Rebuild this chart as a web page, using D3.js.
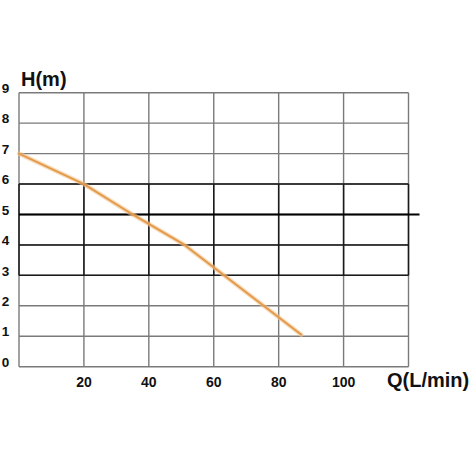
<!DOCTYPE html>
<html>
<head>
<meta charset="utf-8">
<script src="https://cdn.jsdelivr.net/npm/d3@7"></script>
<style>
  body { margin: 0; background: #fff; }
  text { font-family: "Liberation Sans", Arial, sans-serif; font-weight: bold; fill: #111; }
</style>
</head>
<body>
<svg id="chart" width="470" height="470"></svg>
<script>
// pump curve
var flow = [0, 20, 35, 51, 87];
var head = [7, 6, 5.0, 4.0, 1.05];
var xTicks = [20, 40, 60, 80, 100];
var yTicks = [0, 1, 2, 3, 4, 5, 6, 7, 8, 9];

var svg = d3.select("#chart"),
  margin = { top: 92.7, right: 61.5, bottom: 103.3, left: 19 },
  width = +svg.attr("width") - margin.left - margin.right,
  height = +svg.attr("height") - margin.top - margin.bottom,
  g = svg.append("g")
    .attr("transform", "translate(" + margin.left + "," + margin.top + ")");

var x = d3.scaleLinear().domain([0, 120]).range([0, width]);
var y = d3.scaleLinear().domain([0, 9]).range([height, 0]);

var cols = d3.range(0, 121, 20);

// light grid
g.selectAll(".hl")
  .data(yTicks)
  .enter()
  .append("line")
  .attr("x1", 0).attr("x2", width)
  .attr("y1", function(d) { return y(d); })
  .attr("y2", function(d) { return y(d); })
  .attr("stroke", "#7a7a7a")
  .attr("stroke-width", 1.4);

g.selectAll(".vl")
  .data(cols)
  .enter()
  .append("line")
  .attr("y1", 0).attr("y2", height)
  .attr("x1", function(d) { return x(d); })
  .attr("x2", function(d) { return x(d); })
  .attr("stroke", "#7a7a7a")
  .attr("stroke-width", 1.4);

// darker band between 3 and 6
g.selectAll(".hd")
  .data([3, 4, 6])
  .enter()
  .append("line")
  .attr("x1", 0).attr("x2", width)
  .attr("y1", function(d) { return y(d); })
  .attr("y2", function(d) { return y(d); })
  .attr("stroke", "#1a1a1a")
  .attr("stroke-width", 1.5);

g.selectAll(".vd")
  .data(cols)
  .enter()
  .append("line")
  .attr("y1", y(6)).attr("y2", y(3))
  .attr("x1", function(d) { return x(d); })
  .attr("x2", function(d) { return x(d); })
  .attr("stroke", "#1a1a1a")
  .attr("stroke-width", 1.5);

// 5 m line runs past the frame
g.append("line")
  .attr("x1", 0).attr("x2", width + 11)
  .attr("y1", y(5)).attr("y2", y(5))
  .attr("stroke", "#000")
  .attr("stroke-width", 2.2);

var pts = flow.map(function(f, i) { return [f, head[i]]; });
var line = d3.line()
  .x(function(d) { return x(d[0]); })
  .y(function(d) { return y(d[1]); });

g.append("path")
  .datum(pts)
  .attr("fill", "none")
  .attr("stroke", "#f3c58e")
  .attr("stroke-opacity", 0.6)
  .attr("stroke-linejoin", "round")
  .attr("stroke-linecap", "round")
  .attr("stroke-width", 4.5)
  .attr("d", line);

g.append("path")
  .datum(pts)
  .attr("fill", "none")
  .attr("stroke", "#e39a4c")
  .attr("stroke-linejoin", "round")
  .attr("stroke-linecap", "round")
  .attr("stroke-width", 2)
  .attr("d", line);

// tick labels
g.selectAll(".yl")
  .data(yTicks)
  .enter()
  .append("text")
  .attr("x", -13.5)
  .attr("y", function(d) { return y(d) - 4.5; })
  .attr("dy", "0.35em")
  .attr("text-anchor", "middle")
  .attr("font-size", 13.5)
  .text(function(d) { return d; });

g.selectAll(".xl")
  .data(xTicks)
  .enter()
  .append("text")
  .attr("x", function(d) { return x(d); })
  .attr("y", height + 20)
  .attr("text-anchor", "middle")
  .attr("font-size", 14)
  .text(function(d) { return d; });

svg.append("text")
  .attr("x", 21)
  .attr("y", 86)
  .attr("font-size", 20)
  .text("H(m)");

svg.append("text")
  .attr("x", 387)
  .attr("y", 387)
  .attr("font-size", 20)
  .text("Q(L/min)");
</script>
</body>
</html>
